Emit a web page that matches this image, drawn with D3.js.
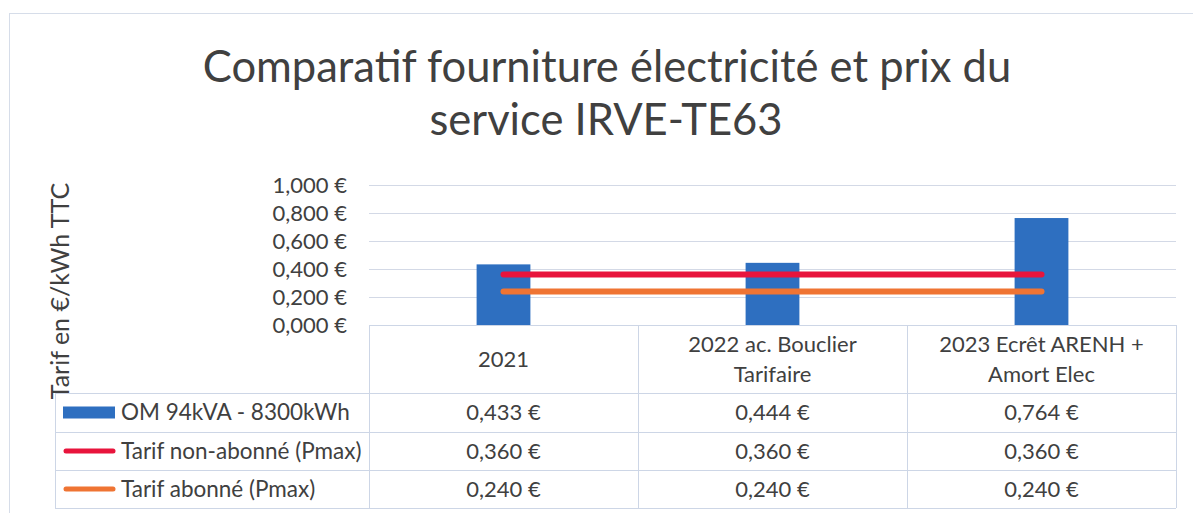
<!DOCTYPE html>
<html>
<head>
<meta charset="utf-8">
<script src="https://cdn.jsdelivr.net/npm/d3@7"></script>
<style>
    body { margin: 0; background: #fff; }
    text { font-family: Lato, "Open Sans", sans-serif; fill: #404040; }
</style>
</head>
<body>
<script>
// data
const categories = ["2021", "2022 ac. Bouclier Tarifaire", "2023 Ecrêt ARENH + Amort Elec"];
const headerLines = [["2021"], ["2022 ac. Bouclier", "Tarifaire"], ["2023 Ecrêt ARENH +", "Amort Elec"]];
const omValues = [0.433, 0.444, 0.764];
const nonAbonneValues = [0.36, 0.36, 0.36];
const abonneValues = [0.24, 0.24, 0.24];
const seriesNames = ["OM 94kVA - 8300kWh", "Tarif non-abonné (Pmax)", "Tarif abonné (Pmax)"];
const yTicks = [0, 0.2, 0.4, 0.6, 0.8, 1.0];

const width = 1193;
const height = 513;

const colours = { om: "#2e6fc0", non: "#e8143c", abo: "#ef7433" };
const gridColour = "#d3d9e6";
const fontSize = "22px";

const svg = d3
    .select("body")
    .append("svg")
    .attr("width", width)
    .attr("height", height);

// outer chart frame (runs off the right / bottom edge in the scan)
svg.append("rect")
    .attr("x", 9.5)
    .attr("y", 13.5)
    .attr("width", 1200)
    .attr("height", 520)
    .attr("fill", "none")
    .attr("stroke", "#d6dde9");

// title
const title = svg.append("text")
    .attr("text-anchor", "middle")
    .attr("font-size", "43.5px")
    .attr("fill", "#404040");
title.append("tspan").attr("x", 607).attr("y", 82).text("Comparatif fourniture électricité et prix du");
title.append("tspan").attr("x", 606).attr("y", 135).text("service IRVE-TE63");

const plotLeft = 369;
const plotRight = 1176;
const plotTop = 185;
const plotBottom = 325;

const x = d3.scaleBand()
    .domain(categories)
    .range([plotLeft, plotRight])
    .paddingInner(0.8)
    .paddingOuter(0.4);

const xCell = d3.scaleBand()
    .domain(categories)
    .range([plotLeft, plotRight]);

const y = d3.scaleLinear().domain([0, 1]).range([plotBottom, plotTop]);

const locale = d3.formatLocale({ decimal: ",", thousands: " ", grouping: [3], currency: ["", " €"] });
const euro = locale.format("$.3f");

// gridlines
svg.append("g")
    .selectAll("line")
    .data(yTicks.filter((d) => d > 0))
    .enter()
    .append("line")
    .attr("x1", plotLeft)
    .attr("x2", plotRight)
    .attr("y1", (d) => Math.round(y(d)) + 0.5)
    .attr("y2", (d) => Math.round(y(d)) + 0.5)
    .attr("stroke", gridColour);

// y axis labels
const yAxis = svg.append("g")
    .attr("transform", `translate(${plotLeft},0)`)
    .call(d3.axisLeft(y).tickValues(yTicks).tickFormat(euro).tickSize(0).tickPadding(22));
yAxis.select(".domain").remove();
yAxis.selectAll("text")
    .attr("font-size", fontSize)
    .attr("fill", "#404040")
    .style("font-family", "Lato, sans-serif");

// y axis title
svg.append("text")
    .attr("transform", "translate(69,291) rotate(-90)")
    .attr("text-anchor", "middle")
    .attr("font-size", "25px")
    .text("Tarif en €/kWh TTC");

// bars
svg.append("g")
    .selectAll("rect")
    .data(omValues)
    .enter()
    .append("rect")
    .attr("x", (d, i) => x(categories[i]))
    .attr("width", x.bandwidth())
    .attr("y", (d) => y(d))
    .attr("height", (d) => y(0) - y(d))
    .attr("fill", colours.om);

// lines
const line = d3.line()
    .x((d, i) => x(categories[i]) + x.bandwidth() / 2)
    .y((d) => y(d));

svg.append("path")
    .datum(nonAbonneValues)
    .attr("d", line)
    .attr("fill", "none")
    .attr("stroke", colours.non)
    .attr("stroke-width", 6)
    .attr("stroke-linecap", "round");

svg.append("path")
    .datum(abonneValues)
    .attr("d", line)
    .attr("fill", "none")
    .attr("stroke", colours.abo)
    .attr("stroke-width", 6)
    .attr("stroke-linecap", "round");

// data table
const tableLeft = 55;
const rowEdges = [325, 393, 432, 470, 508];
const tableColour = "#cdd6e6";
const table = svg.append("g").attr("stroke", tableColour).attr("fill", "none");

// header row top + first column lines
table.append("line").attr("x1", plotLeft).attr("x2", plotRight).attr("y1", rowEdges[0] + 0.5).attr("y2", rowEdges[0] + 0.5);
rowEdges.slice(1).forEach((r) => {
    table.append("line").attr("x1", tableLeft).attr("x2", plotRight).attr("y1", r + 0.5).attr("y2", r + 0.5);
});
table.append("line").attr("x1", tableLeft + 0.5).attr("x2", tableLeft + 0.5).attr("y1", rowEdges[1]).attr("y2", rowEdges[4]);
categories.forEach((c) => {
    table.append("line")
        .attr("x1", xCell(c) + 0.5).attr("x2", xCell(c) + 0.5)
        .attr("y1", rowEdges[0]).attr("y2", rowEdges[4]);
});
table.append("line").attr("x1", plotRight + 0.5).attr("x2", plotRight + 0.5).attr("y1", rowEdges[0]).attr("y2", rowEdges[4]);

// header text
headerLines.forEach((lines, i) => {
    const cx = xCell(categories[i]) + xCell.bandwidth() / 2;
    const mid = (rowEdges[0] + rowEdges[1]) / 2;
    lines.forEach((t, j) => {
        svg.append("text")
            .attr("x", cx)
            .attr("y", mid + (j - (lines.length - 1) / 2) * 30)
            .attr("dy", "0.35em")
            .attr("text-anchor", "middle")
            .attr("font-size", fontSize)
            .text(t);
    });
});

// value rows
const rows = [omValues, nonAbonneValues, abonneValues];
rows.forEach((vals, r) => {
    const cy = (rowEdges[r + 1] + rowEdges[r + 2]) / 2;
    vals.forEach((v, i) => {
        svg.append("text")
            .attr("x", xCell(categories[i]) + xCell.bandwidth() / 2)
            .attr("y", cy)
            .attr("dy", "0.35em")
            .attr("text-anchor", "middle")
            .attr("font-size", fontSize)
            .text(euro(v));
    });
    svg.append("text")
        .attr("x", 121)
        .attr("y", cy)
        .attr("dy", "0.35em")
        .attr("font-size", "22.5px")
        .text(seriesNames[r]);
});

// legend keys in the table
const omRowMid = (rowEdges[1] + rowEdges[2]) / 2;
svg.append("rect")
    .attr("x", 63).attr("y", omRowMid - 6)
    .attr("width", 52).attr("height", 12)
    .attr("fill", colours.om);
[colours.non, colours.abo].forEach((c, k) => {
    const cy = (rowEdges[k + 2] + rowEdges[k + 3]) / 2;
    svg.append("line")
        .attr("x1", 66).attr("x2", 113)
        .attr("y1", cy).attr("y2", cy)
        .attr("stroke", c)
        .attr("stroke-width", 5)
        .attr("stroke-linecap", "round");
});
</script>
</body>
</html>
